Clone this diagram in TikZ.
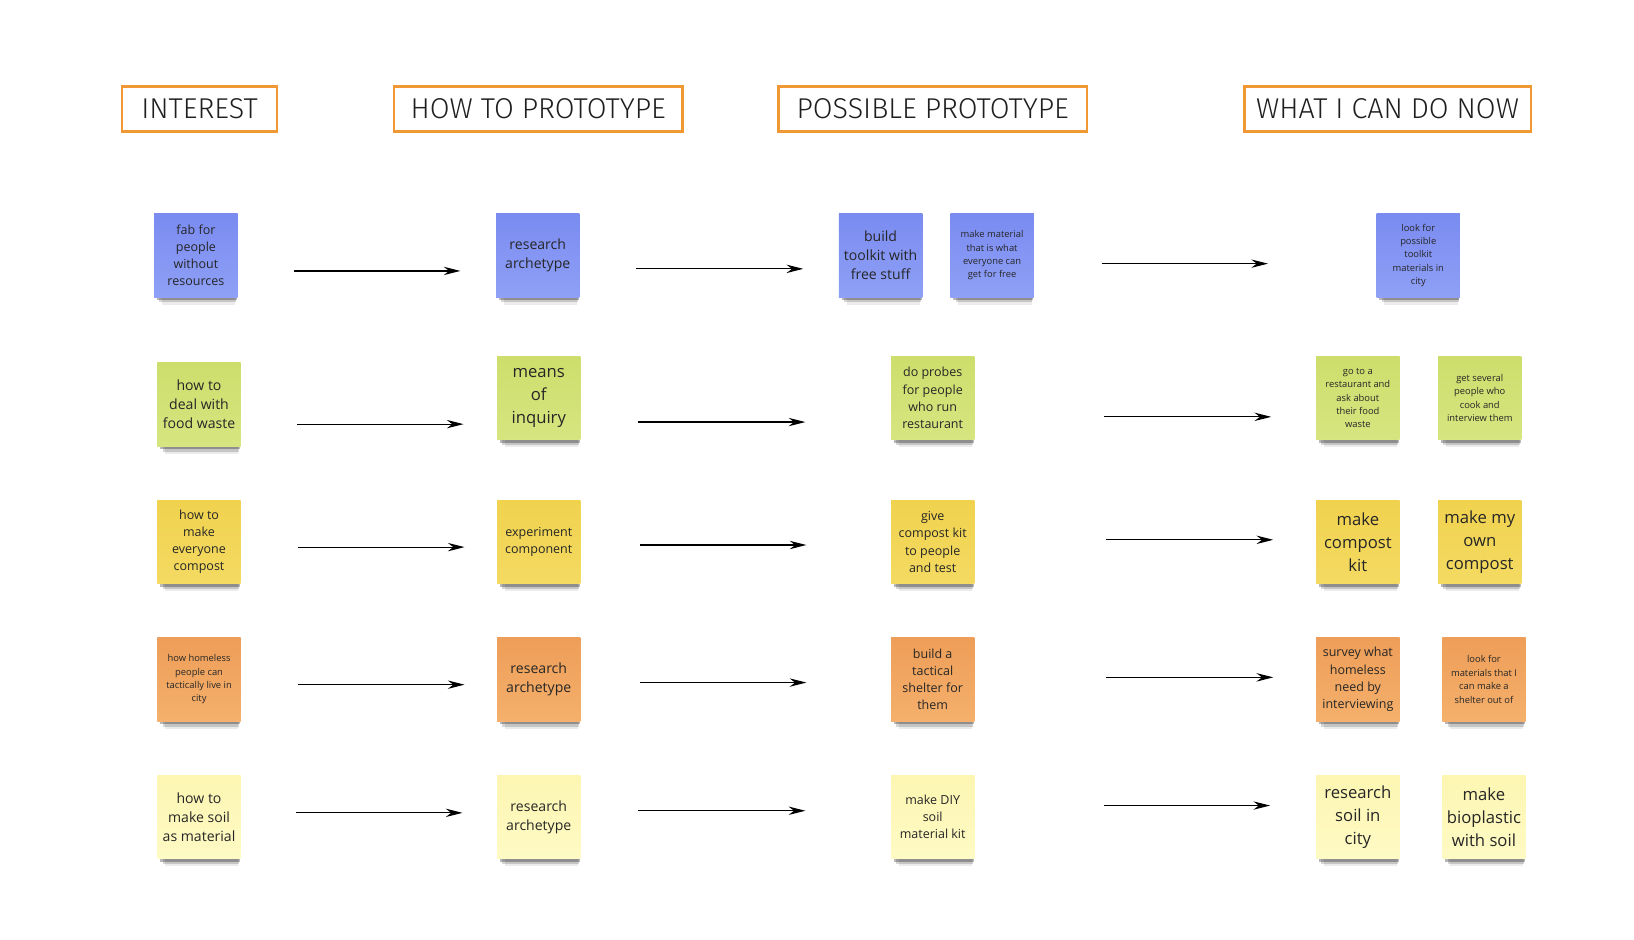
\documentclass[tikz,border=0pt]{standalone}
\usepackage{fontspec}
\setmainfont{Open Sans}
\newfontfamily\headfont{Fira Sans}[UprightFont=* Light]
\usetikzlibrary{arrows.meta,shadows}
\definecolor{hdline}{RGB}{240,152,52}
\definecolor{blT}{RGB}{122,139,241}
\definecolor{blB}{RGB}{143,160,246}
\definecolor{grT}{RGB}{205,222,108}
\definecolor{grB}{RGB}{215,229,128}
\definecolor{yeT}{RGB}{240,210,78}
\definecolor{yeB}{RGB}{244,218,98}
\definecolor{orT}{RGB}{238,158,88}
\definecolor{orB}{RGB}{244,176,108}
\definecolor{paT}{RGB}{253,246,178}
\definecolor{paB}{RGB}{254,250,196}
\tikzset{
  hd/.style={rectangle, draw=hdline, line width=2.4pt, minimum height=43pt, inner sep=0pt, text=black!88, font=\headfont\fontsize{27.5}{30}\selectfont},
  nt/.style={rectangle, minimum width=80pt, minimum height=80pt, inner sep=0pt, align=center, text=black!85,
    drop shadow={shadow xshift=3pt, shadow yshift=-13.8pt, shadow scale=0.88, opacity=0.08, fill=black},
    drop shadow={shadow xshift=2pt, shadow yshift=-9.2pt, shadow scale=0.92, opacity=0.16, fill=black},
    drop shadow={shadow xshift=1pt, shadow yshift=-4.6pt, shadow scale=0.96, opacity=0.28, fill=black}},
  nbl/.style={nt, top color=blT, bottom color=blB},
  ngr/.style={nt, top color=grT, bottom color=grB},
  nye/.style={nt, top color=yeT, bottom color=yeB},
  nor/.style={nt, top color=orT, bottom color=orB},
  npa/.style={nt, top color=paT, bottom color=paB},
  sm/.style={font=\fontsize{9}{12.8}\selectfont},
  nm/.style={font=\fontsize{12}{16.5}\selectfont},
  md/.style={font=\fontsize{13.5}{18.5}\selectfont},
  lg/.style={font=\fontsize{16}{22}\selectfont},
  flow/.style={-{Stealth[length=16pt,width=8pt]}, line width=1.1pt}
}

\begin{document}
\begin{tikzpicture}[x=1pt, y=-1pt]
\fill[white] (0,0) rectangle (1568,902);
\useasboundingbox (0,0) rectangle (1568,902);
% column heads
\node[hd, minimum width=149pt] (h1) at (191.5,104.5) {INTEREST};
\node[hd, minimum width=277pt] (h2) at (516.5,104.5) {HOW TO PROTOTYPE};
\node[hd, minimum width=296pt] (h3) at (895,104.5) {POSSIBLE PROTOTYPE};
\node[hd, minimum width=275pt] (h4) at (1331.5,104.5) {WHAT I CAN DO NOW};
% row 1
\node[nbl, nm] (a1) at (188,245) {fab for\\people\\without\\resources};
\node[nbl, md] (b1) at (516,245) {research\\archetype};
\node[nbl, md] (c1) at (845,245) {build\\toolkit with\\free stuff};
\node[nbl, sm] (c1b) at (952,245) {make material\\that is what\\everyone can\\get for free};
\node[nbl, sm] (d1) at (1361,245) {look for\\possible\\toolkit\\materials in\\city};
% row 2
\node[ngr, md] (a2) at (191,388) {how to\\deal with\\food waste};
\node[ngr, lg] (b2) at (517,382) {means\\of\\inquiry};
\node[ngr, nm] (c2) at (895,382) {do probes\\for people\\who run\\restaurant};
\node[ngr, sm] (d2) at (1303,382) {go to a\\restaurant and\\ask about\\their food\\waste};
\node[ngr, sm] (e2) at (1420,382) {get several\\people who\\cook and\\interview them};
% row 3
\node[nye, nm] (a3) at (191,520) {how to\\make\\everyone\\compost};
\node[nye, nm] (b3) at (517,520) {experiment\\component};
\node[nye, nm] (c3) at (895,520) {give\\compost kit\\to people\\and test};
\node[nye, lg] (d3) at (1303,520) {make\\compost\\kit};
\node[nye, lg] (e3) at (1420,520) {make my\\own\\compost};
% row 4
\node[nor, sm] (a4) at (191,652) {how homeless\\people can\\tactically live in\\city};
\node[nor, md] (b4) at (517,652) {research\\archetype};
\node[nor, nm] (c4) at (895,652) {build a\\tactical\\shelter for\\them};
\node[nor, nm] (d4) at (1303,652) {survey what\\homeless\\need by\\interviewing};
\node[nor, sm] (e4) at (1424,652) {look for\\materials that I\\can make a\\shelter out of};
% row 5
\node[npa, md] (a5) at (191,784) {how to\\make soil\\as material};
\node[npa, md] (b5) at (517,784) {research\\archetype};
\node[npa, nm] (c5) at (895,784) {make DIY\\soil\\material kit};
\node[npa, lg] (d5) at (1303,784) {research\\soil in\\city};
\node[npa, lg] (e5) at (1424,784) {make\\bioplastic\\with soil};
% arrows
\foreach \f/\t/\s/\e/\y in {a1/b1/54/34/260, b1/c1/54/34/258, c1b/d1/65/104/253,
    a2/b2/54/32/407, b2/c2/55/82/405, c2/d2/124/43/400,
    a3/b3/55/31/525, b3/c3/57/81/523, c3/d3/126/41/518,
    a4/b4/55/31/657, b4/c4/57/81/655, c4/d4/126/41/650,
    a5/b5/53/33/780, b5/c5/55/82/778, c5/d5/124/44/773}
  \draw[flow, shorten <=\s pt, shorten >=\e pt] (\f.east |- 0,\y) -- (\t.west |- 0,\y);
\end{tikzpicture}
\end{document}
